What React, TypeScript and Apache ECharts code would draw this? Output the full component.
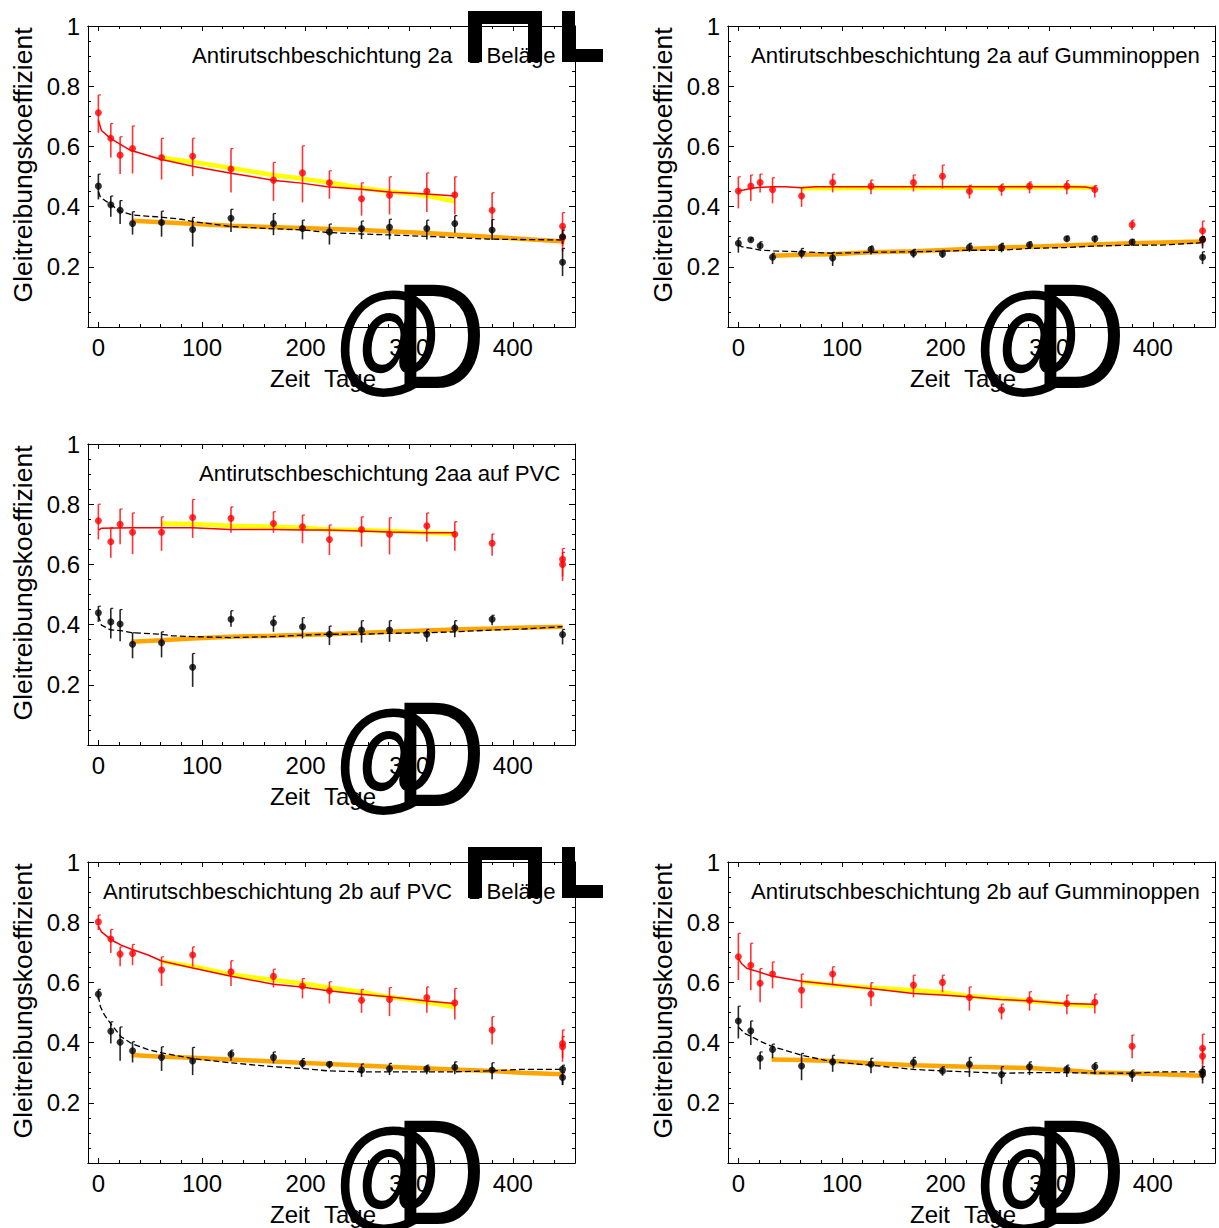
import React, { useEffect, useRef } from "react";
import * as echarts from "echarts";

// ---------- data ----------
// tick values
const xMajorTicks = [0, 100, 200, 300, 400];
const xMinorTicks = [0, 20, 40, 60, 80, 100, 120, 140, 160, 180, 200, 220, 240, 260, 280, 300, 320, 340, 360, 380, 400, 420, 440];

// points: [day, value, lower, upper]
const p1Red = [[0,0.712,0.645,0.771],[12,0.627,0.563,0.676],[21,0.571,0.508,0.632],[33,0.593,0.510,0.668],[61,0.563,0.490,0.627],[91,0.567,0.501,0.627],[128,0.525,0.447,0.593],[169,0.488,0.419,0.547],[197,0.512,0.414,0.602],[223,0.479,0.426,0.519],[254,0.426,0.370,0.479],[281,0.438,0.374,0.499],[317,0.451,0.382,0.512],[344,0.439,0.374,0.499],[380,0.388,0.311,0.446],[448,0.335,0.250,0.380],[448,0.297,0.270,0.330]];
const p1Black = [[0,0.468,0.424,0.508],[12,0.406,0.366,0.435],[21,0.388,0.342,0.420],[33,0.344,0.307,0.383],[61,0.347,0.300,0.385],[91,0.324,0.267,0.364],[128,0.361,0.316,0.391],[169,0.344,0.305,0.377],[197,0.327,0.291,0.355],[223,0.316,0.274,0.342],[254,0.327,0.292,0.352],[281,0.331,0.291,0.358],[317,0.327,0.291,0.355],[344,0.344,0.313,0.370],[380,0.322,0.289,0.357],[448,0.300,0.276,0.322],[448,0.215,0.169,0.261]];
const p1RedFit = [[0,0.687],[3,0.653],[12,0.626],[31,0.587],[60,0.557],[92,0.533],[128,0.511],[170,0.487],[196,0.478],[221,0.466],[254,0.458],[283,0.448],[317,0.442],[344,0.435]];
const p1Yellow = [[61,0.562],[91,0.548],[128,0.528],[170,0.504],[196,0.493],[221,0.481],[254,0.462],[283,0.449],[317,0.436],[344,0.418]];
const p1Dashed = [[0,0.45],[2,0.431],[12,0.407],[21,0.384],[33,0.372],[60,0.365],[80,0.358],[92,0.35],[128,0.334],[170,0.326],[196,0.323],[221,0.314],[254,0.309],[280,0.306],[325,0.3],[376,0.292],[450,0.289]];
const p1Orange = [[33,0.353],[128,0.336],[196,0.329],[254,0.322],[325,0.311],[376,0.3],[450,0.284]];

const p2Red = [[0,0.452,0.394,0.499],[12,0.468,0.419,0.505],[21,0.48,0.447,0.508],[33,0.456,0.411,0.496],[61,0.435,0.399,0.463],[91,0.48,0.447,0.508],[128,0.468,0.441,0.488],[169,0.48,0.45,0.505],[197,0.501,0.46,0.538],[223,0.451,0.427,0.471],[254,0.46,0.436,0.475],[281,0.468,0.444,0.482],[317,0.468,0.441,0.486],[344,0.457,0.43,0.47],[380,0.34,0.322,0.355],[448,0.32,0.289,0.352],[448,0.29,0.27,0.3]];
const p2Black = [[0,0.278,0.247,0.296],[12,0.29,0.284,0.296],[21,0.27,0.261,0.283],[33,0.232,0.209,0.245],[61,0.245,0.228,0.261],[91,0.229,0.203,0.248],[128,0.258,0.241,0.269],[169,0.245,0.23,0.258],[197,0.243,0.23,0.255],[223,0.265,0.25,0.278],[254,0.266,0.248,0.278],[281,0.273,0.261,0.283],[317,0.293,0.285,0.302],[344,0.293,0.281,0.302],[380,0.282,0.272,0.291],[448,0.291,0.261,0.3],[448,0.232,0.209,0.25]];
const p2RedFit = [[0,0.452],[5,0.455],[12,0.46],[21,0.464],[33,0.466],[45,0.466],[61,0.463],[75,0.466],[128,0.466],[197,0.466],[254,0.466],[317,0.466],[335,0.465],[344,0.459]];
const p2Yellow = [[61,0.461],[128,0.462],[197,0.463],[254,0.463],[317,0.464],[344,0.463]];
const p2Dashed = [[0,0.275],[3,0.267],[13,0.261],[22,0.255],[34,0.253],[61,0.25],[91,0.245],[127,0.248],[169,0.25],[197,0.252],[222,0.255],[253,0.255],[281,0.261],[316,0.264],[343,0.269],[379,0.272],[408,0.272],[447,0.28]];
const p2Orange = [[33,0.237],[61,0.24],[91,0.242],[127,0.248],[169,0.252],[222,0.259],[281,0.267],[343,0.274],[379,0.278],[447,0.284]];

const p3Red = [[0,0.745,0.683,0.8],[12,0.675,0.622,0.722],[21,0.733,0.667,0.784],[33,0.707,0.634,0.771],[61,0.707,0.645,0.758],[91,0.756,0.688,0.816],[128,0.753,0.705,0.791],[169,0.736,0.705,0.775],[197,0.725,0.67,0.764],[223,0.683,0.631,0.731],[254,0.716,0.659,0.758],[281,0.7,0.633,0.755],[317,0.728,0.675,0.771],[344,0.7,0.645,0.742],[380,0.67,0.629,0.701],[448,0.6,0.545,0.653],[448,0.617,0.56,0.64]];
const p3Black = [[0,0.439,0.409,0.461],[12,0.409,0.354,0.454],[21,0.402,0.345,0.45],[33,0.335,0.288,0.373],[61,0.34,0.291,0.376],[91,0.258,0.193,0.304],[128,0.418,0.393,0.446],[169,0.406,0.376,0.428],[197,0.393,0.354,0.423],[223,0.368,0.332,0.395],[254,0.382,0.34,0.413],[281,0.382,0.343,0.413],[317,0.368,0.343,0.384],[344,0.389,0.358,0.413],[380,0.418,0.398,0.431],[448,0.367,0.334,0.384]];
const p3RedFit = [[0,0.714],[3,0.72],[33,0.722],[61,0.722],[91,0.722],[127,0.716],[169,0.716],[197,0.714],[222,0.714],[253,0.711],[281,0.708],[316,0.705],[344,0.705]];
const p3Yellow = [[61,0.736],[91,0.734],[127,0.728],[169,0.725],[197,0.722],[222,0.716],[253,0.714],[281,0.711],[316,0.705],[344,0.701]];
const p3Dashed = [[0,0.43],[3,0.398],[12,0.382],[22,0.38],[32,0.373],[61,0.368],[71,0.363],[91,0.36],[127,0.357],[169,0.36],[197,0.365],[222,0.368],[253,0.368],[281,0.371],[316,0.373],[344,0.376],[380,0.382],[408,0.385],[448,0.393]];
const p3Orange = [[32,0.343],[61,0.348],[91,0.354],[127,0.36],[169,0.363],[222,0.368],[281,0.376],[344,0.384],[380,0.387],[448,0.393]];

const p5Red = [[0,0.801,0.774,0.824],[12,0.744,0.698,0.776],[21,0.694,0.654,0.718],[33,0.696,0.657,0.726],[61,0.641,0.588,0.685],[91,0.691,0.652,0.718],[128,0.635,0.588,0.672],[169,0.62,0.583,0.644],[197,0.588,0.547,0.613],[223,0.572,0.53,0.602],[254,0.541,0.499,0.577],[281,0.543,0.488,0.583],[317,0.55,0.499,0.585],[344,0.532,0.477,0.58],[380,0.442,0.394,0.486],[448,0.386,0.336,0.442],[448,0.397,0.35,0.42]];
const p5Black = [[0,0.561,0.543,0.577],[12,0.438,0.397,0.469],[21,0.401,0.34,0.452],[33,0.373,0.334,0.403],[61,0.351,0.306,0.386],[91,0.339,0.292,0.384],[128,0.361,0.34,0.375],[169,0.351,0.331,0.369],[197,0.331,0.314,0.347],[223,0.328,0.314,0.336],[254,0.309,0.286,0.329],[281,0.313,0.292,0.331],[317,0.313,0.295,0.325],[344,0.318,0.295,0.336],[380,0.309,0.278,0.333],[448,0.311,0.259,0.325],[448,0.284,0.259,0.3]];
const p5RedFit = [[0,0.787],[3,0.768],[9,0.751],[16,0.735],[22,0.724],[32,0.71],[48,0.691],[61,0.671],[91,0.648],[127,0.621],[169,0.594],[196,0.585],[222,0.572],[253,0.561],[280,0.552],[315,0.539],[343,0.53]];
const p5Yellow = [[61,0.669],[91,0.654],[127,0.627],[169,0.608],[196,0.597],[222,0.583],[253,0.569],[280,0.552],[315,0.536],[345,0.517]];
const p5Dashed = [[0,0.555],[2,0.519],[6,0.491],[13,0.458],[22,0.419],[32,0.397],[48,0.377],[61,0.366],[91,0.347],[127,0.333],[169,0.32],[196,0.314],[222,0.306],[253,0.303],[315,0.303],[343,0.303],[379,0.306],[408,0.311],[448,0.311]];
const p5Orange = [[32,0.359],[61,0.353],[91,0.35],[127,0.344],[169,0.337],[222,0.329],[280,0.32],[343,0.311],[379,0.306],[408,0.3],[448,0.295]];

const p6Red = [[0,0.685,0.608,0.763],[12,0.657,0.574,0.73],[21,0.597,0.534,0.646],[33,0.628,0.58,0.668],[61,0.574,0.514,0.628],[91,0.628,0.591,0.652],[128,0.561,0.521,0.599],[169,0.591,0.55,0.624],[197,0.6,0.567,0.624],[223,0.55,0.506,0.585],[254,0.508,0.477,0.528],[281,0.541,0.506,0.569],[317,0.53,0.494,0.558],[344,0.534,0.497,0.561],[380,0.388,0.348,0.425],[448,0.381,0.286,0.428],[448,0.355,0.33,0.38]];
const p6Black = [[0,0.472,0.414,0.521],[12,0.439,0.392,0.472],[21,0.348,0.311,0.369],[33,0.377,0.348,0.395],[61,0.322,0.275,0.364],[91,0.336,0.303,0.358],[128,0.328,0.298,0.348],[169,0.334,0.314,0.351],[197,0.306,0.29,0.32],[223,0.328,0.286,0.351],[254,0.294,0.262,0.32],[281,0.32,0.292,0.336],[317,0.311,0.286,0.325],[344,0.32,0.295,0.333],[380,0.294,0.27,0.309],[448,0.303,0.264,0.32],[448,0.294,0.276,0.31]];
const p6RedFit = [[0,0.68],[3,0.663],[8,0.647],[16,0.639],[32,0.621],[61,0.604],[91,0.593],[127,0.58],[169,0.563],[196,0.558],[222,0.552],[253,0.543],[280,0.539],[315,0.53],[343,0.527]];
const p6Yellow = [[61,0.602],[91,0.591],[127,0.583],[169,0.574],[196,0.567],[222,0.555],[253,0.547],[280,0.538],[315,0.528],[345,0.521]];
const p6Dashed = [[0,0.452],[6,0.431],[16,0.414],[22,0.403],[32,0.388],[61,0.358],[91,0.336],[127,0.325],[169,0.311],[196,0.306],[222,0.303],[253,0.298],[280,0.3],[315,0.3],[379,0.298],[408,0.303],[448,0.303]];
const p6Orange = [[32,0.344],[61,0.342],[91,0.339],[127,0.331],[169,0.325],[222,0.32],[280,0.316],[315,0.309],[343,0.301],[379,0.298],[448,0.29]];

const titles = [
  ["Antirutschbeschichtung 2a", "1 Beläge"],
  ["Antirutschbeschichtung 2a auf Gumminoppen", ""],
  ["Antirutschbeschichtung 2aa auf PVC", ""],
  ["Antirutschbeschichtung 2b auf PVC", "1 Beläge"],
  ["Antirutschbeschichtung 2b auf Gumminoppen", ""],
];
const yTitle = "Gleitreibungskoeffizient";

// ---------- layout ----------
const FONT = "Liberation Sans, Arial, sans-serif";
const panels = [
  { left: 88, top: 26, titleX: 192, data: [p1Red, p1Black, p1RedFit, p1Yellow, p1Dashed, p1Orange], bracket: true },
  { left: 728, top: 26, titleX: 751, data: [p2Red, p2Black, p2RedFit, p2Yellow, p2Dashed, p2Orange], bracket: false },
  { left: 88, top: 444, titleX: 199, data: [p3Red, p3Black, p3RedFit, p3Yellow, p3Dashed, p3Orange], bracket: false },
  { left: 88, top: 862, titleX: 103, data: [p5Red, p5Black, p5RedFit, p5Yellow, p5Dashed, p5Orange], bracket: true },
  { left: 728, top: 862, titleX: 751, data: [p6Red, p6Black, p6RedFit, p6Yellow, p6Dashed, p6Orange], bracket: false },
];
const GW = 487;
const GH = 301;

function errorBars(data: number[][], color: string, xi: number, yi: number) {
  return {
    type: "custom",
    xAxisIndex: xi,
    yAxisIndex: yi,
    z: 4,
    silent: true,
    data: data.map((d) => [d[0], d[2], d[3]]),
    encode: { x: 0, y: [1, 2] },
    renderItem: (params: any, api: any) => {
      const x = api.value(0);
      const a = api.coord([x, api.value(1)]);
      const b = api.coord([x, api.value(2)]);
      return {
        type: "group",
        children: [
          { type: "line", shape: { x1: a[0], y1: a[1], x2: b[0], y2: b[1] }, style: { stroke: color, lineWidth: 1.6 } },
          { type: "line", shape: { x1: b[0], y1: b[1], x2: b[0] + 2.5, y2: b[1] }, style: { stroke: color, lineWidth: 1.2 } },
        ],
      };
    },
  };
}

export default function App() {
  const ref = useRef<HTMLDivElement>(null);
  useEffect(() => {
    if (!ref.current) return;
    const chart = echarts.init(ref.current, null, { renderer: "svg" });
    const grids: any[] = [];
    const xAxes: any[] = [];
    const yAxes: any[] = [];
    const series: any[] = [];
    const graphic: any[] = [];
    const axisLine = { show: true, onZero: false, lineStyle: { color: "#000", width: 1 } };

    panels.forEach((p, g) => {
      grids.push({ left: p.left, top: p.top, width: GW, height: GH });
      const xb = { type: "value", gridIndex: g, min: -10, max: 460, splitLine: { show: false }, axisLine };
      const major = { show: true, inside: true, length: 5, customValues: xMajorTicks, lineStyle: { color: "#000", width: 1 } };
      const minor = { show: true, inside: true, length: 3, customValues: xMinorTicks, lineStyle: { color: "#000", width: 1 } };
      xAxes.push({ ...xb, position: "bottom", axisTick: major,
        axisLabel: { show: true, customValues: xMajorTicks, fontSize: 24, color: "#000", fontFamily: FONT, margin: 8 } });
      xAxes.push({ ...xb, position: "bottom", axisTick: minor, axisLabel: { show: false } });
      xAxes.push({ ...xb, position: "top", axisTick: major, axisLabel: { show: false } });
      xAxes.push({ ...xb, position: "top", axisTick: minor, axisLabel: { show: false } });
      const yb = {
        type: "value", gridIndex: g, min: 0, max: 1, interval: 0.2, splitLine: { show: false }, axisLine,
        axisTick: { show: true, inside: true, length: 6, lineStyle: { color: "#000", width: 1 } },
        minorTick: { show: true, splitNumber: 4, length: 3, lineStyle: { color: "#000", width: 1 } },
      };
      yAxes.push({ ...yb, position: "left",
        axisLabel: { show: true, fontSize: 24, color: "#000", fontFamily: FONT, margin: 8,
          formatter: (v: number) => (v === 0 ? "" : String(Math.round(v * 10) / 10)) } });
      yAxes.push({ ...yb, position: "right", axisLabel: { show: false } });

      const xi = g * 4;
      const yi = g * 2;
      const [red, black, redFit, yellow, dashed, orange] = p.data;
      const line = (data: number[][], color: string, width: number, z: number, type: any = "solid") => ({
        type: "line", xAxisIndex: xi, yAxisIndex: yi, data, showSymbol: false, symbol: "none", z, silent: true,
        lineStyle: { color, width, type },
      });
      series.push(line(yellow, "#ffff00", 4.5, 2));
      series.push(line(orange, "#ffa500", 4.5, 2));
      series.push(line(redFit, "#ff0000", 1.5, 3));
      series.push(line(dashed, "#000000", 1.3, 3, [6, 3]));
      series.push(errorBars(red, "rgba(255,0,0,0.8)", xi, yi));
      series.push(errorBars(black, "rgba(0,0,0,0.85)", xi, yi));
      series.push({ type: "scatter", xAxisIndex: xi, yAxisIndex: yi, data: red.map((d) => [d[0], d[1]]),
        symbolSize: 7, itemStyle: { color: "#ff0000" }, z: 5, silent: true });
      series.push({ type: "scatter", xAxisIndex: xi, yAxisIndex: yi, data: black.map((d) => [d[0], d[1]]),
        symbolSize: 7, itemStyle: { color: "#000000" }, z: 5, silent: true });

      // texts
      const dx = p.left - 88;
      const dy = p.top - 26;
      const txt = (text: string, x: number, y: number, size: number, extra: any = {}) => ({
        type: "text", x, y, z: 10, ...extra,
        style: { text, fill: "#000", font: `${size}px ${FONT}`, textAlign: "left", textVerticalAlign: "middle", ...(extra.style || {}) },
      });
      graphic.push(txt(titles[g][0], p.titleX, 55 + dy, 22.2));
      if (titles[g][1]) graphic.push(txt(titles[g][1], 468 + dx, 55 + dy, 22.2));
      graphic.push(txt(yTitle, 23 + dx, 165 + dy, 26.5, { rotation: Math.PI / 2, style: { textAlign: "center" } }));
      graphic.push(txt("Zeit", 270 + dx, 378 + dy, 24));
      graphic.push(txt("Tage", 324 + dx, 378 + dy, 24));
      // large bracket glyphs (as rendered in the source)
      graphic.push({ type: "text", x: 388 + dx, y: 336 + dy, z: 11, scaleX: 0.9,
        style: { text: "@", fill: "#000", font: `bold 122px ${FONT}`, textAlign: "center", textVerticalAlign: "middle" } });
      graphic.push({ type: "text", x: 440 + dx, y: 336 + dy, z: 11, scaleX: 0.85,
        style: { text: "D", fill: "#000", font: `150px ${FONT}`, textAlign: "center", textVerticalAlign: "middle" } });
      if (p.bracket) {
        const r = (x: number, y: number, w: number, h: number) => ({ type: "rect", z: 11, shape: { x, y: y + dy, width: w, height: h }, style: { fill: "#000" } });
        graphic.push(r(468, 11, 74, 13));
        graphic.push(r(468, 11, 14, 51));
        graphic.push(r(528, 11, 14, 51));
        graphic.push(r(562, 11, 13, 51));
        graphic.push(r(562, 49, 41, 13));
      }
    });

    chart.setOption({
      animation: false,
      backgroundColor: "#fff",
      grid: grids,
      xAxis: xAxes,
      yAxis: yAxes,
      series,
      graphic,
    });
    return () => chart.dispose();
  }, []);
  return <div ref={ref} style={{ position: "absolute", left: 0, top: 0, width: 1219, height: 1228 }} />;
}
